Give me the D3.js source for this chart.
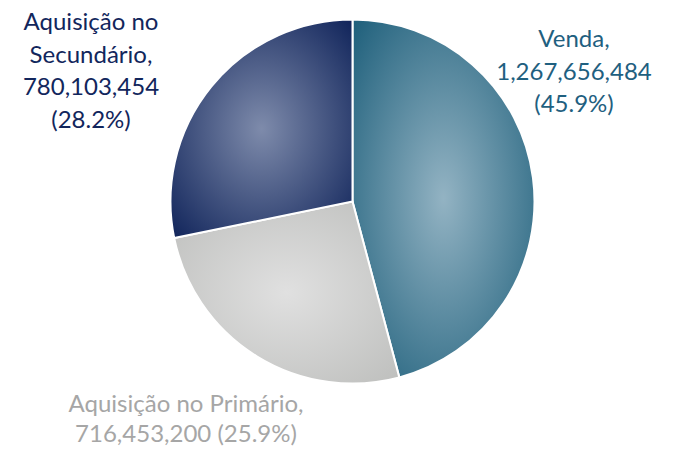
<!DOCTYPE html>
<html><head><meta charset="utf-8">
<script src="https://cdn.jsdelivr.net/npm/d3@7"></script>
<style>body{margin:0;background:#fff}</style>
</head><body>
<svg id="c" width="675" height="451"></svg>
<script>
const categories = ["Venda", "Aquisição no Primário", "Aquisição no Secundário"];
const values = [1267656484, 716453200, 780103454];
const percents = ["45.9%", "25.9%", "28.2%"];
const labelLines = [
  ["Venda,", "1,267,656,484", "(45.9%)"],
  ["Aquisição no Primário,", "716,453,200 (25.9%)"],
  ["Aquisição no", "Secundário,", "780,103,454", "(28.2%)"]
];
const colorsInner = ["#93b3c3", "#e0e0e0", "#7e8bab"];
const colorsOuter = ["#1b5d79", "#bdbebc", "#0d2158"];
const textColors = ["#1f6080", "#a6a6a6", "#12265c"];
const labelPos = [[574, 47], [186, 412], [91, 30]];

const svg = d3.select("#c");
const cx = 352.5, cy = 201.5, R = 182;
const defs = svg.append("defs");
categories.forEach((c, i) => {
  const g = defs.append("radialGradient").attr("id", "g" + i)
    .attr("cx", 0.5).attr("cy", 0.5).attr("r", 0.72);
  g.append("stop").attr("offset", 0).attr("stop-color", colorsInner[i]);
  g.append("stop").attr("offset", 1).attr("stop-color", colorsOuter[i]);
});
const pie = d3.pie().sort(null).value(d => d);
const arc = d3.arc().innerRadius(0).outerRadius(R);
const gp = svg.append("g").attr("transform", `translate(${cx},${cy})`);
gp.selectAll("path").data(pie(values)).join("path")
  .attr("d", arc)
  .attr("fill", (d, i) => `url(#g${i})`)
  .attr("stroke", "#fff").attr("stroke-width", 2);

labelLines.forEach((lines, i) => {
  const t = svg.append("text").attr("text-anchor", "middle")
    .attr("font-family", "Lato, sans-serif").attr("font-size", 24)
    .attr("fill", textColors[i]);
  lines.forEach((l, j) => {
    t.append("tspan").attr("x", labelPos[i][0]).attr("y", labelPos[i][1] + j * (i === 1 ? 30 : 32.5)).text(l);
  });
});
</script>
</body></html>
